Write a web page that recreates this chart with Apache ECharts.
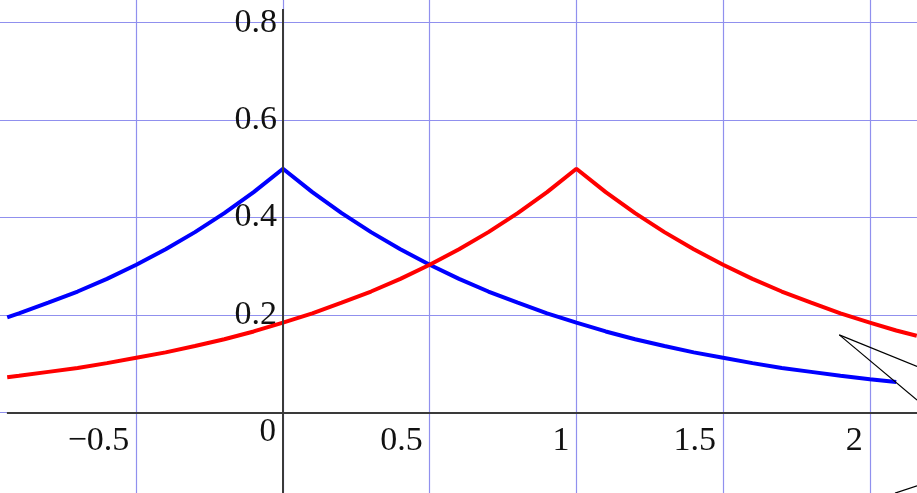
<!DOCTYPE html>
<html>
<head>
<meta charset="utf-8">
<script src="https://cdn.jsdelivr.net/npm/echarts@6/dist/echarts.min.js"></script>
<style>html,body{margin:0;padding:0;background:#fff}#c{width:917px;height:493px}</style>
</head>
<body>
<div id="c"></div>
<script>
// sample x positions
const xs = [-0.94,-0.9,-0.8,-0.7,-0.6,-0.5,-0.4,-0.3,-0.2,-0.1,0,0.1,0.2,0.3,0.4,0.5,0.6,0.7,0.8,0.9,1.0,1.1,1.2,1.3,1.4,1.5,1.6,1.7,1.8,1.9,2.0,2.09,2.16];
// blue curve (peak at x = 0)
const blueVals = [0.195,0.203,0.225,0.248,0.274,0.303,0.335,0.370,0.409,0.452,0.500,0.452,0.409,0.370,0.335,0.303,0.274,0.248,0.225,0.203,0.184,0.166,0.150,0.136,0.123,0.112,0.101,0.091,0.083,0.075,0.068,0.062,null];
// red curve (peak at x = 1)
const redVals = [0.072,0.075,0.083,0.091,0.101,0.112,0.123,0.136,0.150,0.166,0.184,0.203,0.225,0.248,0.274,0.303,0.335,0.370,0.409,0.452,0.500,0.452,0.409,0.370,0.335,0.303,0.274,0.248,0.225,0.203,0.184,0.168,0.157];
// tick labels
const xTickValues = [-0.5,0,0.5,1,1.5,2];
const xTickLabels = ['\u22120.5','0','0.5','1','1.5','2'];
const yTickValues = [0.2,0.4,0.6,0.8];
const yTickLabels = ['0.2','0.4','0.6','0.8'];
// drawn axis line extents (data units)
const xAxisLineExtent = [-0.941, 2.5];
const yAxisLineExtent = [-0.2, 0.828];
// callout strokes at lower right (data units)
const calloutTip = [1.896, 0.159];
const calloutEnds = [[2.161, 0.094],[2.161, 0.025]];
const calloutBottom = [[2.086,-0.166],[2.161,-0.151]];

const font = 'Liberation Serif';
function pick(vals, labels, v){
  for (let i=0;i<vals.length;i++){ if (Math.abs(vals[i]-v)<1e-6) return labels[i]; }
  return '';
}
const chart = echarts.init(document.getElementById('c'), null, {renderer:'canvas'});
const zip = (a,b)=>a.map((x,i)=>[x,b[i]]).filter(p=>p[1]!==null);

const option = {
  animation:false,
  backgroundColor:'#fff',
  grid:{left:-10.4, right:-99.5, top:-74.7, bottom:-16.7, containLabel:false, outerBoundsMode:'none'},
  xAxis:{
    type:'value', min:-1, max:2.5, interval:0.5, position:'bottom', offset:-97.4,
    axisLine:{show:false, onZero:false},
    axisTick:{show:false},
    splitLine:{show:true, lineStyle:{color:'#9090ee', width:1.2}},
    axisLabel:{
      formatter:function(v){ const s=pick(xTickValues,xTickLabels,v); if(s==='0') return '{o|0}'; return s; },
      fontFamily:font, fontSize:34, color:'#111', align:'right', verticalAlign:'middle',
      margin:29, padding:[0,7,0,0],
      rich:{o:{fontFamily:font, fontSize:33, color:'#111', padding:[0,0,18,0]}}
    }
  },
  yAxis:{
    type:'value', min:-0.2, max:1.0, interval:0.2, position:'left', offset:-293.4,
    axisLine:{show:false, onZero:false},
    axisTick:{show:false},
    splitLine:{show:true, lineStyle:{color:'#9090ee', width:1.2}},
    axisLabel:{
      formatter:function(v){ return pick(yTickValues,yTickLabels,v); },
      fontFamily:font, fontSize:34, color:'#111', margin:6, padding:[4,0,0,0]
    }
  },
  series:[
    {type:'line', data:[], z:1, silent:true,
      markLine:{silent:true, symbol:['none','none'], label:{show:false},
        lineStyle:{color:'#3a3a3a', width:2, type:'solid'},
        emphasis:{disabled:true},
        data:[
          [{coord:[xAxisLineExtent[0],0]},{coord:[xAxisLineExtent[1],0]}],
          [{coord:[0,yAxisLineExtent[0]]},{coord:[0,yAxisLineExtent[1]]}]
        ]}
    },
    {name:'blue', type:'line', data:zip(xs,blueVals), showSymbol:false, z:2,
      lineStyle:{color:'#0000ff', width:4}, itemStyle:{color:'#0000ff'}},
    {name:'red', type:'line', data:zip(xs,redVals), showSymbol:false, z:2,
      lineStyle:{color:'#ff0000', width:4}, itemStyle:{color:'#ff0000'}},
    {type:'line', data:[], z:4, silent:true,
      markLine:{silent:true, symbol:['none','none'], label:{show:false},
        lineStyle:{color:'#000', width:1.2, type:'solid'},
        emphasis:{disabled:true},
        data:[
          [{coord:calloutTip},{coord:calloutEnds[0]}],
          [{coord:calloutTip},{coord:calloutEnds[1]}],
          [{coord:calloutBottom[0]},{coord:calloutBottom[1]}]
        ]}
    }
  ]
};
chart.setOption(option);
</script>
</body>
</html>
